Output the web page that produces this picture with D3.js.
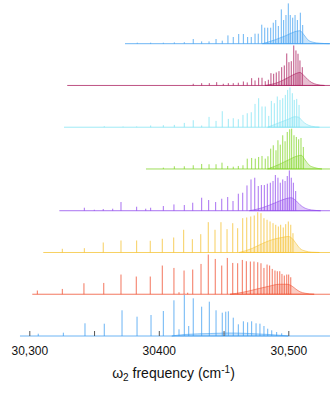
<!DOCTYPE html>
<html><head><meta charset="utf-8">
<script src="https://cdn.jsdelivr.net/npm/d3@7"></script>
<style>body{margin:0;background:#fff}svg{display:block}</style>
</head><body><div id="chart"></div>
<script>
// ---- data (frequency in cm-1, relative intensity) ----
const seriesColors = ["#3d9ef0", "#a8185a", "#7fe3f3", "#7ed321", "#8e44ec", "#f4c02e", "#ef4b2b", "#3c9cf0"];
const startFreq = [30373.9, 30329.3, 30326.8, 30390.1, 30323.2, 30310.8, 30302.3, 30292.8];
const endFreq = 30532.2;

const sticks1 = [[30383.4,1],[30393.7,1],[30403.5,1],[30412.0,1.3],[30419.7,1.5],[30426.6,4.7],[30433.1,2.3],[30438.8,2.3],[30444.2,4.7],[30449.0,3],[30453.4,8.3],[30457.5,6.7],[30461.7,9.7],[30465.3,9.7],[30468.6,6.7],[30471.4,6.7],[30474.3,10],[30476.8,10],[30479.5,19],[30481.8,16],[30484.1,16],[30486.4,16],[30488.4,21],[30490.3,23.7],[30492.3,17.7],[30494.6,34.3],[30496.4,23.7],[30498.2,28.7],[30500.0,40.3],[30501.5,28.7],[30503.4,26],[30505.2,28.7],[30507.0,23.7],[30509.3,31],[30511.1,18.7]];
const hump1 = [[30480,0],[30490,4],[30498,8],[30505,12],[30509,13],[30512,9],[30515,4],[30519,1.5],[30524,0.5],[30532,0]];

const sticks2 = [[30426.6,1.7],[30433.1,2.3],[30439.0,2.3],[30444.7,3.3],[30449.8,1.7],[30453.7,2.3],[30457.5,2.3],[30461.4,2.7],[30465.3,4],[30468.3,3],[30471.7,7.3],[30474.3,5],[30477.1,7.7],[30479.7,7.7],[30482.2,4.3],[30484.6,5.7],[30486.6,12.3],[30488.7,11.7],[30490.7,13],[30492.8,14.3],[30494.9,18.3],[30496.9,20],[30498.8,32],[30500.5,23.3],[30502.3,24.3],[30504.2,40],[30505.9,35],[30507.5,31.7],[30509.0,25],[30510.8,18.3]];
const hump2 = [[30482,0],[30492,3],[30500,8],[30506,12],[30509,13],[30512,10],[30515,6],[30518,3],[30522,1],[30528,0]];

const sticks3 = [[30357.9,1],[30372.4,0.7],[30382.9,0.7],[30393.7,1.7],[30403.5,2],[30412.0,2.3],[30419.7,4.3],[30426.6,7],[30433.1,1.7],[30438.8,10.3],[30444.2,6.3],[30449.0,16],[30453.7,8.3],[30457.5,9],[30461.4,8],[30465.0,12.3],[30468.3,14],[30471.4,15],[30474.3,23.3],[30477.1,29],[30479.7,20.7],[30482.2,20.7],[30484.9,11.3],[30486.9,26.3],[30489.2,24],[30491.5,30.7],[30493.6,27.3],[30495.7,29],[30497.7,32.3],[30499.5,37.3],[30501.3,39.7],[30503.1,34],[30504.6,27.3],[30506.5,28.3],[30508.3,22.3]];
const hump3 = [[30484,0],[30492,4],[30500,8],[30505,10.5],[30508,10],[30511,6],[30514,3],[30518,1],[30524,0]];

const sticks4 = [[30403.5,1.3],[30412.0,2.7],[30419.7,2.7],[30426.6,3.7],[30433.1,5],[30438.8,4.7],[30444.2,4.7],[30448.8,6.3],[30453.2,3],[30457.5,2.3],[30461.4,3],[30465.0,3.7],[30468.3,10.3],[30471.7,11],[30474.5,10.3],[30477.1,12],[30479.7,13],[30482.2,10.3],[30484.3,12.7],[30486.4,20.3],[30488.4,23.7],[30490.5,18.7],[30492.0,28.7],[30493.8,24.3],[30495.7,33.7],[30497.5,27.7],[30499.2,37],[30501.1,39.7],[30502.6,40.3],[30504.4,33.7],[30506.2,32],[30508.0,29.7],[30509.8,31],[30511.6,22]];
const hump4 = [[30484,0],[30492,4],[30500,9],[30507,13],[30510,13.7],[30513,9],[30516,4],[30520,1.5],[30526,0]];

const sticks5 = [[30342.5,3],[30350.2,1],[30357.1,1.7],[30364.4,2],[30370.8,8.7],[30382.9,4],[30389.9,2],[30393.7,3],[30403.5,4.7],[30411.7,6.3],[30419.7,5.7],[30426.2,8],[30433.1,13],[30438.5,10.7],[30443.9,8.7],[30448.6,12],[30453.2,13.7],[30457.3,9.7],[30461.4,17],[30464.8,18],[30468.1,25.3],[30471.2,31.3],[30474.1,33],[30476.8,24.7],[30479.2,25.7],[30481.5,25.7],[30483.8,27],[30486.1,28],[30488.2,29.7],[30490.0,35.7],[30492.0,33],[30493.8,28],[30495.7,31.3],[30497.5,29.7],[30499.2,34.7],[30500.8,40.3],[30502.3,33],[30503.9,28],[30505.7,19.7]];
const hump5 = [[30470,0],[30480,3],[30490,8],[30498,12],[30502,13],[30506,10],[30509,6],[30513,2.5],[30518,0.8],[30525,0]];

const sticks6 = [[30325.5,3.7],[30342.5,4.3],[30357.1,10],[30370.8,12],[30382.9,12],[30393.4,11.7],[30402.7,13.7],[30411.5,15],[30419.2,22.7],[30425.9,13.3],[30432.4,18.3],[30438.2,30.3],[30443.4,22.7],[30448.0,30.3],[30452.7,23.3],[30457.1,29.3],[30460.9,24.3],[30464.8,34.3],[30467.9,35],[30471.0,36],[30473.7,37],[30476.4,40.3],[30478.9,39.3],[30481.2,34.3],[30483.6,32.7],[30485.9,31],[30488.2,29.3],[30490.3,27.7],[30492.3,26],[30494.1,27.7],[30496.1,25],[30498.0,28.3],[30500.0,31],[30501.9,27.7],[30503.6,19.3]];
const hump6 = [[30462,0],[30472,4],[30480,9],[30488,13],[30495,15],[30500,16],[30503,14],[30506,9],[30509,4],[30513,1.5],[30518,0.3],[30524,0]];

const sticks7 = [[30306.2,3.7],[30325.5,5.3],[30342.2,11],[30357.5,11.3],[30370.8,19.7],[30382.6,17.7],[30393.4,17.7],[30402.7,28.7],[30411.7,26.3],[30415.6,2],[30419.5,23.7],[30422.3,1.5],[30426.2,24.7],[30432.6,30.3],[30438.2,39.7],[30443.6,35.3],[30448.6,28.7],[30452.9,36.3],[30457.1,31.3],[30460.9,31],[30464.5,34.3],[30467.6,33],[30470.7,32.7],[30473.5,32.7],[30476.4,32],[30478.9,31],[30481.2,26.3],[30483.6,29.7],[30485.6,28.7],[30487.6,25.3],[30489.7,23.7],[30491.5,23],[30493.4,23],[30495.1,20.3],[30496.9,18.7],[30498.8,19.7],[30500.3,19.7],[30501.9,17]];
const hump7 = [[30455,0],[30465,2],[30475,5],[30485,8],[30493,10],[30499,10],[30503,8],[30506,5],[30509,2.5],[30513,1],[30520,0]];

const sticks8 = [[30306.9,2.3],[30326.3,3.3],[30343.0,12.7],[30357.9,12.3],[30371.6,25.7],[30383.2,19.3],[30394.0,21],[30403.5,25],[30411.7,35.7],[30415.6,6.7],[30419.7,41],[30423.1,10],[30426.6,37.7],[30433.1,29.3],[30439.0,34.3],[30444.2,25.7],[30449.0,23.3],[30451.7,24.3],[30453.7,24.7],[30457.5,18.3],[30461.4,11.7],[30465.3,14.7],[30468.6,13.7],[30471.7,14.7],[30475.1,12.7],[30478.1,12.3],[30481.2,10],[30484.1,7.3],[30487.2,5.7],[30491.0,4],[30494.9,2.7]];
const hump8 = [[30410,0],[30420,1.5],[30440,2.5],[30455,3],[30470,2.5],[30485,1.5],[30495,0.6],[30500,0]];

const tickValues = [30300, 30350, 30400, 30450, 30500];
const tickLabels = ["30,300", "", "30400", "", "30,500"];

const allSticks = [sticks1, sticks2, sticks3, sticks4, sticks5, sticks6, sticks7, sticks8];
const allHumps = [hump1, hump2, hump3, hump4, hump5, hump6, hump7, hump8];

// ---- drawing ----
const W = 333, H = 394;
const svg = d3.select("#chart").append("svg").attr("width", W).attr("height", H);
svg.append("rect").attr("width", W).attr("height", H).attr("fill", "#fff");

const x = d3.scaleLinear().domain([30300, 30500]).range([29.3, 288.3]);
const yBase = d3.scalePoint().domain(d3.range(8)).range([43.7, 336]);
const yInt = d3.scaleLinear().domain([0, 42]).range([0, 42]);

allSticks.forEach((sticks, i) => {
  const g = svg.append("g");
  const b = yBase(i);
  const c = seriesColors[i];
  // broad unresolved hump
  const area = d3.area().x(d => x(d[0])).y0(b).y1(d => b - yInt(d[1])).curve(d3.curveMonotoneX);
  g.append("path").datum(allHumps[i]).attr("d", area)
    .attr("fill", c).attr("fill-opacity", 0.28).attr("stroke", c).attr("stroke-width", 0.8).attr("stroke-opacity", 0.7);
  // baseline
  g.append("line").attr("x1", x(startFreq[i])).attr("x2", x(endFreq))
    .attr("y1", b).attr("y2", b).attr("stroke", c).attr("stroke-width", 1).attr("stroke-opacity", 0.75);
  // sticks
  g.selectAll("line.stk").data(sticks).join("line").attr("class", "stk")
    .attr("x1", d => x(d[0])).attr("x2", d => x(d[0]))
    .attr("y1", b).attr("y2", d => b - yInt(d[1]))
    .attr("stroke", c).attr("stroke-width", 0.9).attr("stroke-opacity", 0.85);
});

// axis
const axis = d3.axisBottom(x).tickValues(tickValues).tickSizeInner(-5).tickSizeOuter(0)
  .tickPadding(10).tickFormat((d, i) => tickLabels[i]);
const ax = svg.append("g").attr("transform", `translate(0,${yBase(7)})`).call(axis);
ax.select(".domain").remove();
ax.selectAll(".tick line").attr("stroke", "#555").attr("stroke-width", 1);
ax.selectAll(".tick text").attr("fill", "#111").style("font-family", "'Liberation Sans', Arial, sans-serif").style("font-size", "12px");

// axis title
const t = svg.append("text").attr("x", 173.5).attr("y", 377.5).attr("text-anchor", "middle")
  .style("font-family", "'Liberation Sans', Arial, sans-serif").style("font-size", "14px").attr("fill", "#111");
t.append("tspan").text("ω");
t.append("tspan").attr("dy", 3).style("font-size", "10px").text("2");
t.append("tspan").attr("dy", -3).text(" frequency (cm");
t.append("tspan").attr("dy", -5).style("font-size", "10px").text("-1");
t.append("tspan").attr("dy", 5).text(")");
</script></body></html>
